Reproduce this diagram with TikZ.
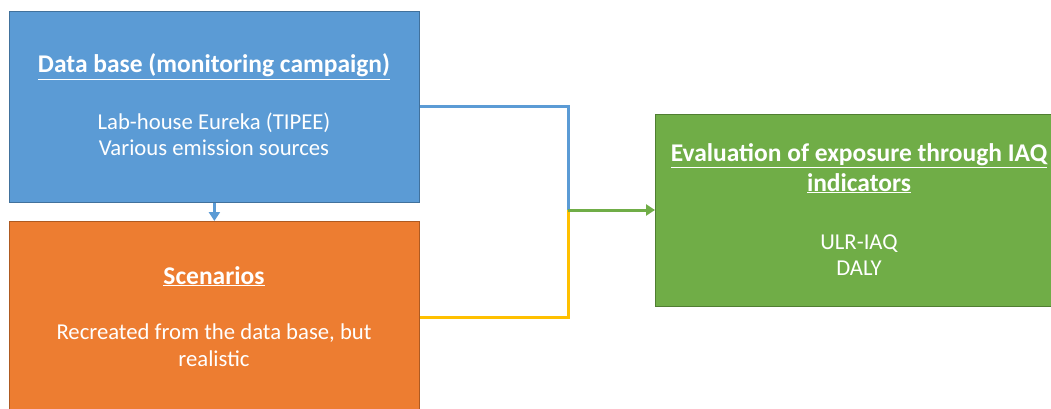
\documentclass[tikz,border=0pt]{standalone}
\usepackage{fontspec}
\setmainfont{Carlito}
\usetikzlibrary{arrows.meta}
\definecolor{cblue}{HTML}{5B9BD5}
\definecolor{cblueb}{HTML}{41719C}
\definecolor{corange}{HTML}{ED7D31}
\definecolor{coranb}{HTML}{AE5A21}
\definecolor{cgreen}{HTML}{70AD47}
\definecolor{cgreenb}{HTML}{507E32}
\definecolor{cyellow}{HTML}{FFC000}
\newcommand{\ulx}[1]{\underline{#1}}
\tikzset{
  box/.style={draw=#1, line width=0.8pt, inner sep=0pt, anchor=north west},
  ttl/.style={anchor=base, text=white, font=\fontsize{25.5}{30}\selectfont\bfseries, inner sep=0pt},
  txt/.style={anchor=base, text=white, font=\fontsize{22.7}{27}\selectfont, inner sep=0pt},
  conn/.style={line width=3pt, draw=#1},
  arr/.style={line width=3pt, draw=#1, -{Triangle[length=9pt,width=11pt]}}
}
\begin{document}
\begin{tikzpicture}[x=1pt,y=-1pt]
\useasboundingbox (0,0) rectangle (1051,409);
% boxes
\node[box=cblueb, fill=cblue, minimum width=410pt, minimum height=191pt] (db) at (9,11) {};
\node[box=coranb, fill=corange, minimum width=410pt, minimum height=193pt] (sc) at (9,221) {};
\node[box=cgreenb, fill=cgreen, minimum width=400pt, minimum height=192pt] (ev) at (655,114) {};
% texts
\node[ttl] (dbt) at (214,73) {\ulx{Data base (monitoring campaign)}};
\node[txt] (dbl1) at (214,129) {Lab-house Eureka (TIPEE)};
\node[txt] (dbl2) at (214,155) {Various emission sources};
\node[ttl] (sct) at (214,284) {\ulx{Scenarios}};
\node[txt] (scl1) at (214,339) {Recreated from the data base, but};
\node[txt] (scl2) at (214,366) {realistic};
\node[ttl] (evt1) at (859,161) {\ulx{Evaluation of exposure through IAQ}};
\node[ttl] (evt2) at (859,191) {\ulx{indicators}};
\node[txt] (evl1) at (859,249) {ULR-IAQ};
\node[txt] (evl2) at (859,275) {DALY};
% connectors
\coordinate (j) at (568,210);
\draw[conn=cblue] (db.east) -| (j);
\draw[conn=cyellow] (sc.east |- 0,317) -| (j);
\draw[arr=cgreen] (j) -- (ev.west |- j);
\draw[arr=cblue] (db.south) -- (sc.north);
\end{tikzpicture}
\end{document}
